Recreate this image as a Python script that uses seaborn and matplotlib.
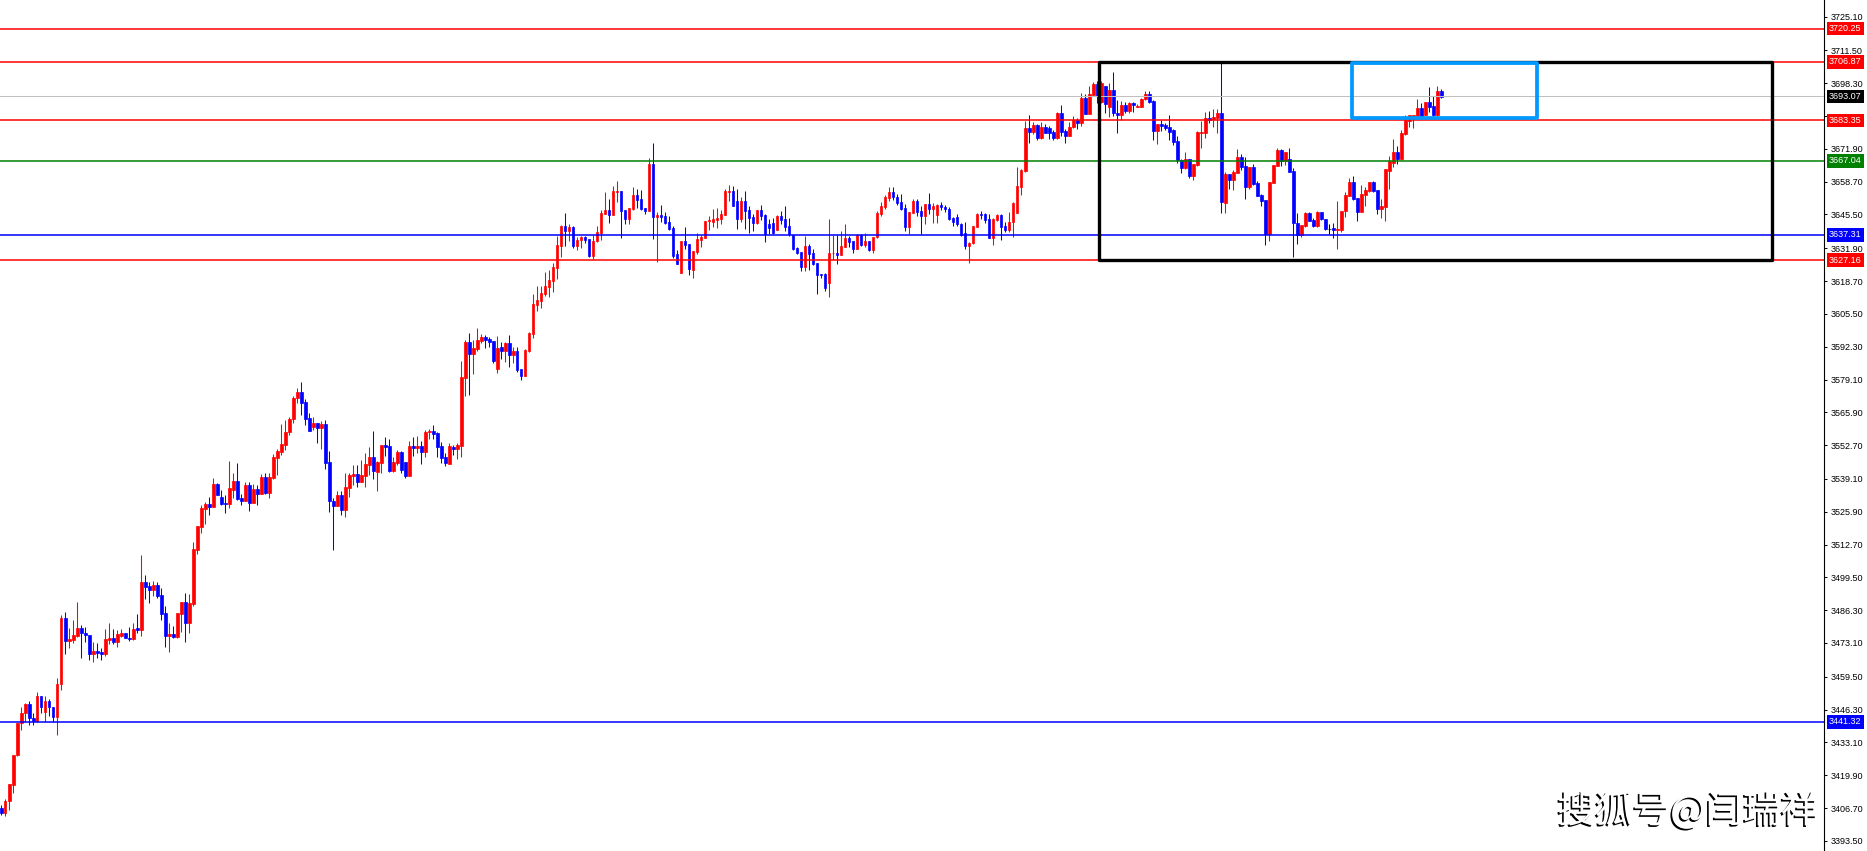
"""
MT4-style candlestick chart with support/resistance levels
"""

import numpy as np
import pandas as pd
import matplotlib
matplotlib.use("Agg")
import matplotlib.pyplot as plt
import matplotlib.patheffects as pe
from matplotlib.patches import Rectangle
import seaborn as sns

sns.set_theme(style="white")
plt.rcParams['font.family'] = ['Liberation Sans', 'DejaVu Sans']

# ---- candle data ----
opens = [
    3406.8, 3404.6, 3409.4, 3416.0, 3428.0, 3440.8, 3444.9, 3448.4, 3443.0, 3441.9,
    3451.6, 3445.3, 3449.6, 3447.5, 3443.3, 3456.4, 3483.0, 3473.9, 3474.1, 3476.1,
    3479.2, 3477.3, 3476.5, 3468.6, 3469.8, 3469.3, 3468.6, 3474.1, 3474.9, 3473.3,
    3476.1, 3477.3, 3475.3, 3474.5, 3479.0, 3478.2, 3497.5, 3495.9, 3494.3, 3496.3,
    3492.6, 3485.0, 3476.1, 3476.9, 3475.7, 3484.6, 3489.4, 3481.0, 3488.6, 3510.4,
    3519.6, 3526.9, 3528.9, 3527.7, 3536.9, 3531.7, 3529.3, 3528.9, 3534.5, 3538.1,
    3531.3, 3530.1, 3536.5, 3529.3, 3534.9, 3532.9, 3539.7, 3533.3, 3539.3, 3547.4,
    3549.8, 3552.6, 3557.9, 3563.2, 3571.8, 3573.9, 3569.9, 3563.5, 3559.9, 3561.5,
    3559.6, 3561.1, 3545.8, 3530.2, 3528.2, 3532.5, 3526.6, 3535.4, 3540.2, 3540.9,
    3537.8, 3540.3, 3544.6, 3547.8, 3541.9, 3545.5, 3552.6, 3552.2, 3542.1, 3545.5,
    3549.8, 3545.8, 3540.1, 3552.2, 3551.5, 3552.2, 3549.9, 3557.8, 3558.2, 3557.4,
    3552.3, 3547.9, 3545.1, 3551.9, 3551.1, 3552.2, 3579.7, 3594.2, 3589.4, 3591.4,
    3594.6, 3596.2, 3595.4, 3594.6, 3583.3, 3592.2, 3590.6, 3593.9, 3589.0, 3590.5,
    3583.3, 3580.5, 3590.6, 3597.4, 3609.1, 3610.7, 3613.5, 3616.4, 3618.8, 3623.9,
    3632.9, 3640.8, 3638.9, 3640.5, 3632.9, 3635.1, 3636.5, 3635.6, 3628.7, 3634.8,
    3638.0, 3645.7, 3647.3, 3645.3, 3654.6, 3654.9, 3647.3, 3643.6, 3647.7, 3653.3,
    3651.7, 3648.1, 3646.9, 3665.8, 3644.4, 3645.3, 3644.9, 3642.4, 3640.0, 3629.5,
    3621.9, 3634.8, 3633.6, 3623.1, 3630.4, 3635.2, 3636.0, 3642.8, 3642.4, 3643.2,
    3643.6, 3645.3, 3654.6, 3654.9, 3650.9, 3643.6, 3650.9, 3647.3, 3644.4, 3642.0,
    3647.3, 3645.3, 3641.6, 3642.0, 3639.2, 3644.9, 3643.6, 3640.8, 3637.2, 3632.0,
    3630.4, 3624.3, 3632.8, 3630.0, 3625.9, 3621.5, 3621.5, 3617.9, 3629.9, 3630.0,
    3629.1, 3632.4, 3636.0, 3634.8, 3631.6, 3637.2, 3633.2, 3634.8, 3631.2, 3636.4,
    3645.7, 3648.5, 3652.1, 3654.5, 3652.5, 3650.5, 3648.1, 3640.4, 3646.1, 3650.9,
    3646.9, 3644.9, 3649.7, 3647.7, 3645.3, 3649.2, 3648.5, 3647.7, 3644.1, 3644.5,
    3641.6, 3638.0, 3632.8, 3634.0, 3640.4, 3645.7, 3645.7, 3643.7, 3636.0, 3643.3,
    3645.3, 3640.8, 3639.2, 3642.5, 3646.1, 3656.5, 3663.0, 3680.3, 3678.7, 3681.5,
    3676.3, 3680.7, 3680.3, 3678.7, 3676.3, 3686.3, 3679.1, 3677.1, 3680.7, 3683.5,
    3682.3, 3692.4, 3685.9, 3693.6, 3698.0, 3690.9, 3697.2, 3688.9, 3695.6, 3686.5,
    3685.5, 3689.6, 3687.1, 3690.5, 3688.9, 3688.9, 3691.8, 3694.1, 3691.2, 3679.1,
    3681.9, 3681.5, 3680.7, 3679.5, 3675.1, 3667.4, 3664.3, 3667.9, 3661.1, 3665.5,
    3678.4, 3678.4, 3684.5, 3683.8, 3684.2, 3686.3, 3650.2, 3661.8, 3659.4, 3662.3,
    3668.8, 3665.1, 3656.7, 3664.7, 3658.3, 3653.3, 3651.3, 3637.5, 3658.3, 3665.0,
    3671.4, 3667.0, 3667.8, 3663.1, 3641.9, 3637.2, 3640.8, 3646.1, 3643.3, 3640.8,
    3646.5, 3643.5, 3639.6, 3639.9, 3639.2, 3639.2, 3647.0, 3652.9, 3658.6, 3652.0,
    3646.6, 3653.5, 3655.1, 3658.6, 3655.3, 3647.7, 3648.6, 3663.1, 3666.3, 3670.8,
    3667.8, 3677.9, 3683.2, 3684.1, 3685.3, 3688.3, 3685.7, 3690.8, 3689.2, 3685.5, 3695.2,
]
highs = [
    3408.1, 3410.4, 3416.2, 3428.2, 3441.0, 3447.3, 3448.9, 3449.6, 3445.1, 3453.3,
    3451.6, 3451.9, 3450.5, 3447.5, 3459.0, 3484.2, 3485.4, 3479.0, 3482.2, 3489.4,
    3480.2, 3479.4, 3476.5, 3473.3, 3472.9, 3471.0, 3478.6, 3481.0, 3478.6, 3478.2,
    3478.6, 3477.3, 3479.4, 3481.0, 3484.6, 3508.3, 3500.3, 3497.5, 3497.9, 3497.5,
    3495.1, 3487.8, 3481.0, 3479.8, 3485.0, 3489.4, 3493.4, 3493.0, 3513.6, 3520.0,
    3528.5, 3529.7, 3531.7, 3539.3, 3537.3, 3534.5, 3532.5, 3546.2, 3541.4, 3545.4,
    3532.9, 3537.7, 3537.7, 3536.9, 3536.5, 3541.0, 3541.4, 3541.4, 3549.0, 3551.0,
    3561.1, 3562.7, 3564.0, 3572.3, 3575.6, 3578.1, 3571.1, 3565.5, 3563.9, 3561.5,
    3562.3, 3562.7, 3550.2, 3531.4, 3534.1, 3534.1, 3541.3, 3541.3, 3544.9, 3544.6,
    3546.6, 3549.4, 3551.9, 3558.4, 3546.2, 3552.6, 3555.8, 3555.0, 3547.8, 3550.6,
    3550.2, 3545.8, 3554.2, 3555.8, 3556.2, 3554.2, 3558.6, 3559.1, 3560.7, 3557.8,
    3553.9, 3549.5, 3553.5, 3552.7, 3553.5, 3586.6, 3595.0, 3597.8, 3595.0, 3599.8,
    3597.4, 3597.0, 3596.2, 3594.6, 3596.6, 3594.2, 3594.2, 3597.0, 3592.2, 3592.2,
    3583.3, 3591.4, 3598.2, 3613.5, 3616.8, 3616.8, 3622.4, 3623.2, 3626.0, 3636.9,
    3641.3, 3646.1, 3641.7, 3641.0, 3636.5, 3636.9, 3636.9, 3635.6, 3637.2, 3640.8,
    3647.3, 3654.5, 3651.7, 3656.9, 3658.9, 3654.9, 3647.3, 3648.1, 3656.5, 3655.7,
    3655.3, 3648.1, 3668.2, 3674.2, 3646.5, 3649.3, 3646.5, 3644.9, 3640.8, 3631.2,
    3634.8, 3640.4, 3633.6, 3630.8, 3638.0, 3637.2, 3642.8, 3644.9, 3647.7, 3648.1,
    3647.3, 3655.7, 3657.3, 3656.9, 3655.7, 3652.5, 3654.9, 3648.9, 3645.7, 3647.3,
    3649.3, 3645.7, 3643.6, 3644.0, 3645.3, 3646.9, 3648.9, 3644.0, 3637.2, 3632.4,
    3630.4, 3636.8, 3633.6, 3631.6, 3625.9, 3621.5, 3621.9, 3643.6, 3637.2, 3637.2,
    3638.8, 3641.6, 3636.8, 3634.8, 3637.6, 3637.6, 3638.0, 3634.8, 3636.4, 3646.9,
    3650.5, 3653.3, 3656.5, 3656.5, 3653.7, 3653.7, 3649.7, 3646.5, 3651.7, 3651.7,
    3648.9, 3649.7, 3654.1, 3650.1, 3649.7, 3650.5, 3649.3, 3648.5, 3644.5, 3645.7,
    3642.0, 3642.5, 3634.4, 3640.8, 3646.1, 3646.9, 3646.1, 3645.7, 3644.1, 3645.7,
    3645.7, 3642.5, 3646.5, 3650.5, 3664.6, 3663.8, 3683.1, 3685.5, 3682.7, 3681.9,
    3682.7, 3681.9, 3681.1, 3679.5, 3686.7, 3689.6, 3679.9, 3682.7, 3685.1, 3684.3,
    3694.4, 3694.0, 3697.2, 3698.8, 3699.2, 3699.2, 3697.2, 3698.3, 3702.8, 3691.6,
    3691.3, 3690.9, 3690.9, 3690.9, 3689.8, 3692.2, 3695.3, 3695.3, 3691.6, 3681.9,
    3683.5, 3682.4, 3685.5, 3679.9, 3677.1, 3667.8, 3670.6, 3667.9, 3665.9, 3679.1,
    3683.2, 3686.9, 3687.1, 3688.1, 3687.9, 3706.3, 3662.7, 3661.8, 3663.4, 3671.8,
    3669.7, 3668.8, 3664.7, 3665.7, 3659.1, 3653.7, 3651.3, 3658.7, 3665.4, 3672.4,
    3671.7, 3670.8, 3672.1, 3664.1, 3645.9, 3641.2, 3646.5, 3646.5, 3643.9, 3647.0,
    3646.5, 3643.5, 3641.6, 3642.2, 3650.9, 3647.0, 3654.7, 3660.0, 3661.0, 3652.0,
    3657.3, 3656.7, 3658.7, 3659.0, 3655.3, 3651.7, 3663.8, 3669.0, 3675.9, 3673.1,
    3679.5, 3685.5, 3685.4, 3685.4, 3692.0, 3690.4, 3690.8, 3696.8, 3693.2, 3697.2, 3696.0,
]
lows = [
    3403.7, 3403.3, 3405.7, 3412.7, 3427.5, 3437.9, 3441.2, 3440.2, 3440.2, 3441.2,
    3444.9, 3441.5, 3443.9, 3441.5, 3435.9, 3454.0, 3468.5, 3471.2, 3473.0, 3475.7,
    3466.9, 3473.3, 3466.3, 3465.4, 3467.0, 3466.1, 3467.7, 3472.5, 3472.5, 3471.3,
    3475.5, 3474.9, 3473.7, 3474.1, 3477.3, 3476.1, 3490.6, 3489.0, 3492.2, 3491.0,
    3482.2, 3471.3, 3469.3, 3474.9, 3474.9, 3477.7, 3473.3, 3477.3, 3487.8, 3508.8,
    3517.2, 3520.8, 3524.5, 3527.7, 3532.5, 3528.5, 3525.3, 3527.3, 3531.3, 3530.5,
    3528.5, 3530.1, 3526.1, 3529.3, 3528.5, 3532.9, 3532.9, 3531.3, 3538.9, 3540.6,
    3548.6, 3550.6, 3556.7, 3561.6, 3569.7, 3564.7, 3560.8, 3558.4, 3558.6, 3553.5,
    3551.1, 3543.1, 3525.8, 3510.6, 3528.2, 3524.6, 3523.8, 3531.8, 3536.6, 3535.8,
    3537.8, 3535.8, 3540.7, 3539.0, 3534.2, 3541.5, 3548.3, 3541.7, 3541.9, 3544.7,
    3541.5, 3539.3, 3540.1, 3548.3, 3549.5, 3545.1, 3547.9, 3555.2, 3555.2, 3547.9,
    3545.5, 3544.3, 3545.1, 3548.7, 3547.1, 3547.9, 3572.5, 3572.9, 3581.3, 3590.6,
    3593.8, 3591.8, 3592.2, 3585.8, 3581.7, 3587.4, 3586.2, 3584.1, 3585.8, 3582.1,
    3578.9, 3580.5, 3590.2, 3595.8, 3606.7, 3607.9, 3612.7, 3612.3, 3614.3, 3619.6,
    3628.4, 3632.9, 3634.9, 3632.1, 3631.3, 3632.1, 3634.1, 3628.5, 3627.7, 3634.4,
    3635.2, 3645.7, 3642.2, 3645.3, 3650.5, 3636.0, 3641.6, 3641.6, 3647.3, 3648.1,
    3647.3, 3645.7, 3646.9, 3635.6, 3626.3, 3642.4, 3641.6, 3639.2, 3627.9, 3625.5,
    3621.9, 3631.6, 3621.1, 3619.9, 3629.5, 3632.4, 3636.0, 3639.2, 3640.4, 3640.0,
    3641.6, 3645.3, 3650.9, 3648.9, 3639.6, 3642.4, 3639.6, 3638.0, 3638.8, 3641.6,
    3643.2, 3634.4, 3637.6, 3637.6, 3639.2, 3641.6, 3638.8, 3636.8, 3631.2, 3629.5,
    3622.7, 3622.7, 3623.1, 3625.1, 3613.5, 3619.9, 3614.7, 3612.2, 3627.1, 3625.5,
    3629.1, 3632.4, 3632.4, 3630.0, 3631.6, 3632.8, 3632.4, 3630.9, 3630.1, 3636.0,
    3644.9, 3647.7, 3650.9, 3651.3, 3649.3, 3647.3, 3638.8, 3637.6, 3646.1, 3644.9,
    3637.6, 3641.6, 3645.7, 3642.0, 3642.0, 3647.3, 3646.5, 3643.3, 3640.8, 3640.8,
    3636.8, 3631.7, 3626.1, 3633.6, 3640.4, 3643.7, 3642.0, 3636.0, 3633.2, 3642.9,
    3635.2, 3638.4, 3638.4, 3636.4, 3646.1, 3653.3, 3662.6, 3674.3, 3677.9, 3675.5,
    3675.9, 3678.3, 3675.9, 3675.5, 3675.9, 3677.1, 3674.3, 3677.1, 3680.3, 3679.9,
    3681.1, 3685.9, 3685.9, 3693.2, 3690.2, 3690.2, 3686.2, 3684.9, 3685.3, 3678.4,
    3683.5, 3686.2, 3686.2, 3686.9, 3688.6, 3688.9, 3691.6, 3690.5, 3675.5, 3674.0,
    3679.1, 3679.5, 3675.5, 3673.5, 3666.3, 3662.3, 3663.9, 3660.3, 3659.4, 3665.1,
    3672.4, 3676.4, 3682.4, 3680.8, 3678.4, 3645.9, 3645.9, 3655.6, 3655.3, 3662.1,
    3663.4, 3651.6, 3655.7, 3657.3, 3653.1, 3649.0, 3633.2, 3634.9, 3658.3, 3664.9,
    3665.0, 3665.4, 3662.7, 3628.5, 3633.6, 3636.5, 3640.6, 3643.0, 3640.6, 3640.6,
    3643.3, 3639.2, 3637.6, 3635.9, 3631.7, 3638.6, 3644.6, 3652.9, 3651.3, 3643.0,
    3646.6, 3648.9, 3654.7, 3654.7, 3645.5, 3644.2, 3643.0, 3655.9, 3664.7, 3665.8,
    3667.4, 3677.5, 3680.7, 3680.3, 3685.3, 3685.3, 3685.4, 3686.7, 3685.3, 3685.3, 3692.5,
]
closes = [
    3404.6, 3409.7, 3416.2, 3428.2, 3440.8, 3445.1, 3448.4, 3442.9, 3441.9, 3451.6,
    3447.3, 3449.6, 3447.3, 3443.3, 3456.7, 3483.0, 3473.9, 3474.7, 3476.5, 3479.0,
    3477.1, 3476.3, 3468.6, 3469.7, 3469.0, 3468.5, 3474.5, 3474.9, 3473.3, 3476.8,
    3477.3, 3475.3, 3474.5, 3478.6, 3478.2, 3497.5, 3495.5, 3494.3, 3496.3, 3492.2,
    3484.6, 3476.1, 3476.9, 3475.7, 3485.0, 3489.4, 3481.0, 3489.0, 3510.8, 3520.0,
    3527.3, 3528.9, 3527.7, 3536.9, 3532.5, 3528.9, 3528.9, 3535.3, 3538.1, 3530.9,
    3530.1, 3536.5, 3529.3, 3534.9, 3532.9, 3539.7, 3533.3, 3539.7, 3547.8, 3550.2,
    3553.0, 3557.9, 3563.3, 3571.8, 3573.9, 3569.7, 3563.2, 3558.4, 3561.5, 3559.6,
    3561.1, 3545.5, 3530.2, 3528.2, 3532.5, 3526.6, 3535.7, 3540.5, 3540.9, 3537.8,
    3540.5, 3545.0, 3547.8, 3542.3, 3545.8, 3552.6, 3551.9, 3542.1, 3545.8, 3549.8,
    3542.5, 3540.1, 3552.2, 3551.5, 3552.2, 3549.9, 3557.8, 3558.2, 3557.0, 3551.9,
    3547.5, 3545.5, 3552.3, 3551.1, 3552.6, 3580.1, 3594.2, 3589.4, 3591.8, 3595.0,
    3596.2, 3595.0, 3594.2, 3586.6, 3591.8, 3590.6, 3593.9, 3589.0, 3590.5, 3582.9,
    3580.5, 3591.0, 3597.8, 3609.5, 3611.1, 3613.9, 3616.8, 3619.2, 3624.4, 3633.3,
    3640.8, 3638.9, 3640.5, 3632.9, 3635.4, 3636.5, 3635.1, 3628.7, 3634.8, 3638.4,
    3646.1, 3647.3, 3645.3, 3654.9, 3654.9, 3647.0, 3643.6, 3648.1, 3653.3, 3651.3,
    3647.7, 3646.9, 3665.8, 3644.4, 3645.3, 3644.4, 3642.0, 3639.6, 3628.7, 3625.5,
    3634.8, 3633.2, 3623.5, 3630.8, 3635.6, 3636.4, 3642.8, 3643.2, 3643.6, 3644.0,
    3645.7, 3654.9, 3654.9, 3648.9, 3643.6, 3650.9, 3646.9, 3644.0, 3642.0, 3647.3,
    3644.9, 3637.6, 3640.0, 3638.0, 3644.9, 3643.2, 3640.4, 3637.6, 3631.6, 3630.0,
    3624.3, 3632.8, 3629.5, 3625.5, 3621.1, 3621.1, 3615.9, 3629.9, 3630.0, 3629.1,
    3632.8, 3636.0, 3634.4, 3631.6, 3637.2, 3633.2, 3634.8, 3631.2, 3636.4, 3646.1,
    3648.9, 3652.5, 3654.5, 3652.5, 3650.1, 3647.7, 3640.4, 3646.5, 3650.9, 3646.5,
    3644.9, 3649.7, 3647.7, 3648.9, 3649.2, 3648.5, 3647.7, 3643.7, 3642.5, 3641.6,
    3637.2, 3632.8, 3634.0, 3640.8, 3645.7, 3645.3, 3643.3, 3636.0, 3643.7, 3645.3,
    3640.4, 3639.2, 3642.5, 3650.1, 3656.9, 3663.4, 3680.3, 3678.7, 3681.5, 3676.3,
    3680.7, 3678.3, 3678.3, 3676.3, 3686.3, 3678.7, 3677.1, 3680.7, 3683.5, 3682.3,
    3692.4, 3685.9, 3694.0, 3698.0, 3693.0, 3698.3, 3690.0, 3695.6, 3686.2, 3685.5,
    3689.6, 3687.1, 3690.5, 3689.4, 3689.3, 3691.8, 3694.1, 3690.9, 3679.1, 3681.9,
    3681.1, 3680.3, 3678.8, 3674.8, 3667.4, 3664.3, 3667.9, 3661.1, 3665.9, 3678.8,
    3678.8, 3684.5, 3683.5, 3684.9, 3686.3, 3650.6, 3661.8, 3659.4, 3662.6, 3668.8,
    3664.7, 3656.7, 3664.7, 3657.7, 3653.1, 3651.0, 3637.5, 3658.7, 3665.4, 3671.4,
    3667.0, 3670.8, 3662.7, 3641.9, 3637.2, 3641.2, 3646.1, 3643.0, 3640.8, 3646.6,
    3643.5, 3639.5, 3639.6, 3639.2, 3639.6, 3647.0, 3653.3, 3658.6, 3651.7, 3646.6,
    3653.7, 3655.3, 3658.6, 3654.9, 3647.9, 3648.9, 3663.8, 3667.0, 3670.8, 3667.8,
    3678.3, 3683.5, 3685.4, 3685.4, 3688.3, 3685.3, 3690.8, 3688.8, 3685.5, 3695.2, 3692.9,
]

# horizontal levels and their right-axis labels
level_prices = [3720.25, 3706.87, 3693.07, 3683.35, 3667.04, 3637.31, 3627.16, 3441.32]
level_colors = ['#ff0000', '#ff0000', '#c0c0c0', '#ff0000', '#008000', '#0000ff', '#ff0000', '#0000ff']
label_colors = ['#ff0000', '#ff0000', '#000000', '#ff0000', '#008000', '#0000ff', '#ff0000', '#0000ff']

tick_values = [3725.10, 3711.50, 3698.30, 3685.10, 3671.90, 3658.70, 3645.50, 3631.90,
               3618.70, 3605.50, 3592.30, 3579.10, 3565.90, 3552.70, 3539.10, 3525.90,
               3512.70, 3499.50, 3486.30, 3473.10, 3459.50, 3446.30, 3433.10, 3419.90,
               3406.70, 3393.50]

# boxes: (first bar, last bar, low price, high price)
range_box = (274.4, 442.6, 3627.16, 3706.87)
target_box = (337.6, 383.85, 3684.3, 3706.6)

watermark = "搜狐号@闫瑞祥"

df = pd.DataFrame({'open': opens, 'high': highs, 'low': lows, 'close': closes})
assert len(df) == 361, len(df)
df['bar'] = np.arange(len(df))
df['color'] = np.where(df['close'] > df['open'], '#ff0000',
                       np.where(df['close'] < df['open'], '#0000ff', '#000000'))
df['body_lo'] = df[['open', 'close']].min(axis=1)
df['body_h'] = (df['close'] - df['open']).abs()

W, H = 1867, 851
fig = plt.figure(figsize=(W / 100, H / 100), dpi=100)
fig.patch.set_facecolor('white')
ax = fig.add_axes([0, 0, 1824.3 / W, 1])
ax.set_facecolor('white')
ax.set_xlim(-0.325, 455.75)
ax.set_ylim(3389.4, 3731.8)

# candles
ax.vlines(df['bar'], df['low'], df['high'], colors=df['color'], linewidth=0.75, zorder=3)
ax.bar(df['bar'], df['body_h'], bottom=df['body_lo'], width=0.6,
       color=df['color'], edgecolor=df['color'], linewidth=0.5, zorder=4)

# levels
for p, c in zip(level_prices, level_colors):
    lw = 0.75 if c == '#c0c0c0' else 1.1
    ax.axhline(p, color=c, linewidth=lw, zorder=5)

# rectangles
for (x0, x1, y0, y1), col, lw in [(range_box, '#000000', 2.4), (target_box, '#0099ff', 2.7)]:
    ax.add_patch(Rectangle((x0, y0), x1 - x0, y1 - y0, fill=False, edgecolor=col,
                           linewidth=lw, joinstyle='round', zorder=6))

# right price axis
ax.yaxis.tick_right()
ax.set_yticks(tick_values)
ax.set_yticklabels([f"{v:.2f}" for v in tick_values])
ax.set_xticks([])
ax.tick_params(axis='y', direction='out', length=2.2, width=0.7, pad=2.5,
               labelsize=6.5, colors='black', right=True, left=False)
for side in ['left', 'top', 'bottom']:
    ax.spines[side].set_visible(False)
ax.spines['right'].set_color('black')
ax.spines['right'].set_linewidth(0.8)
ax.grid(False)

# price tags on the axis
for p, c in zip(level_prices, label_colors):
    ax.annotate(f"{p:.2f}", xy=(1, p), xycoords=('axes fraction', 'data'),
                xytext=(3.4, 0), textcoords='offset points', ha='left', va='center',
                fontsize=6.5, color='white', annotation_clip=False, zorder=10,
                bbox=dict(boxstyle='square,pad=0.25', fc=c, ec='none'))

# watermark
fig.text(0.904, 0.046, watermark, ha='center', va='center', fontsize=27, color='white',
         family=['Noto Sans CJK SC', 'DejaVu Sans'],
         path_effects=[pe.withSimplePatchShadow(offset=(-1.2, -1.2), shadow_rgbFace='black', alpha=1.0)])

fig.savefig('out.png', dpi=100, facecolor='white')
